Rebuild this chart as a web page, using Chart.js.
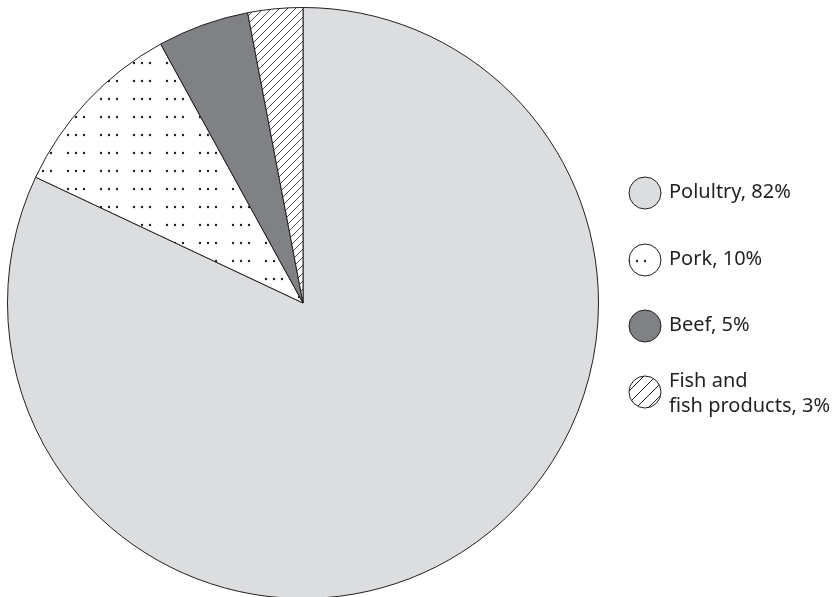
<!DOCTYPE html>
<html>
<head>
<meta charset="utf-8">
<script src="https://cdn.jsdelivr.net/npm/chart.js@4"></script>
<style>
  html, body { margin: 0; padding: 0; background: #fff; overflow: hidden; }
  #wrap { position: relative; width: 838px; height: 606px; }
</style>
</head>
<body>
<div id="wrap"><canvas id="pie"></canvas></div>
<script>
const categories = ['Polultry', 'Pork', 'Beef', 'Fish and fish products'];
const shares = [82, 10, 5, 3];
const legendLines = [['Polultry, 82%'], ['Pork, 10%'], ['Beef, 5%'], ['Fish and', 'fish products, 3%']];

const ink = '#231f20';

function makeTile(w, h, draw) {
  const c = document.createElement('canvas');
  c.width = w; c.height = h;
  const g = c.getContext('2d');
  draw(g);
  return c;
}

const scratch = document.createElement('canvas').getContext('2d');

// dotted fill: small groups of three dots
const dotTile = makeTile(33, 18, g => {
  g.fillStyle = '#fff';
  g.fillRect(0, 0, 33, 18);
  g.fillStyle = ink;
  [2, 10, 18].forEach(x => {
    g.beginPath();
    g.arc(x, 9, 1.2, 0, Math.PI * 2);
    g.fill();
  });
});

// diagonal hatch "/"
function hatch(s, lw) {
  return makeTile(s, s, g => {
    g.fillStyle = '#fff';
    g.fillRect(0, 0, s, s);
    g.strokeStyle = ink;
    g.lineWidth = lw;
    g.beginPath();
    g.moveTo(-1, s + 1); g.lineTo(s + 1, -1);
    g.moveTo(-1, 1); g.lineTo(1, -1);
    g.moveTo(s - 1, s + 1); g.lineTo(s + 1, s - 1);
    g.stroke();
  });
}

const fills = [
  '#dcdddf',
  scratch.createPattern(dotTile, 'repeat'),
  '#808184',
  scratch.createPattern(hatch(8, 0.8), 'repeat')
];
const legendFills = [fills[0], fills[1], fills[2], scratch.createPattern(hatch(12, 1), 'repeat')];

const legendPlugin = {
  id: 'sideLegend',
  afterDraw(chart) {
    const ctx = chart.ctx;
    const ys = [193, 260, 326, 392];
    ctx.save();
    ys.forEach((y, i) => {
      ctx.beginPath();
      ctx.arc(645, y, 16, 0, Math.PI * 2);
      ctx.fillStyle = legendFills[i];
      ctx.fill();
      ctx.lineWidth = 1;
      ctx.strokeStyle = ink;
      ctx.stroke();
      ctx.fillStyle = ink;
      ctx.font = '20px "Noto Sans"';
      ctx.textBaseline = 'middle';
      const lines = legendLines[i];
      const top = lines.length > 1 ? y - 11 : y - 1;
      lines.forEach((t, k) => ctx.fillText(t, 669, top + k * 25));
    });
    ctx.restore();
  }
};

new Chart(document.getElementById('pie'), {
  type: 'pie',
  data: {
    labels: categories,
    datasets: [{
      data: shares,
      backgroundColor: fills,
      borderColor: ink,
      borderWidth: 1
    }]
  },
  options: {
    responsive: true,
    maintainAspectRatio: false,
    animation: false,
    layout: { padding: { left: 7, top: 6, bottom: 6, right: 239 } },
    plugins: { legend: { display: false }, tooltip: { enabled: false } }
  },
  plugins: [legendPlugin]
});
</script>
</body>
</html>
